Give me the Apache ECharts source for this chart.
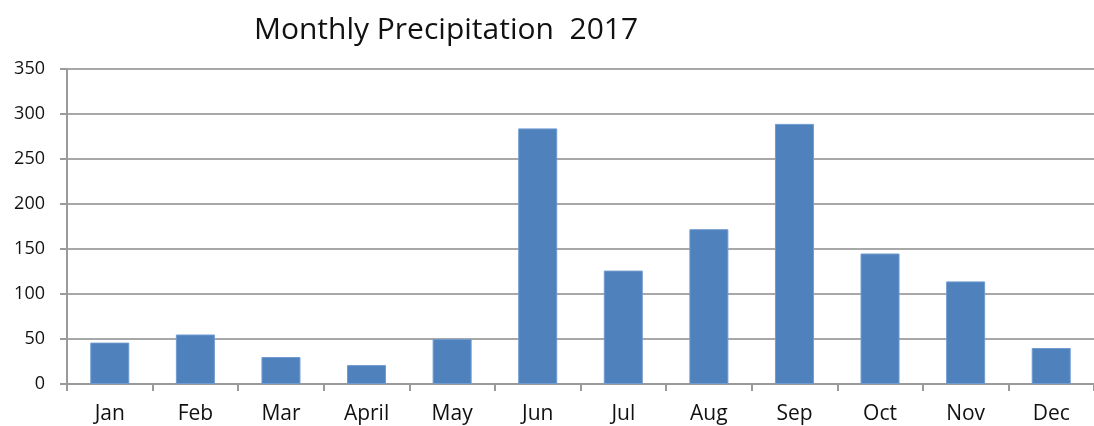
<!DOCTYPE html>
<html>
<head>
<meta charset="utf-8">
<script src="https://cdn.jsdelivr.net/npm/echarts@6/dist/echarts.min.js"></script>
<style>html,body{margin:0;padding:0;background:#fff;}#c{width:1094px;height:426px;}</style>
</head>
<body>
<div id="c"></div>
<script>
const titleText = 'Monthly Precipitation  2017';
const categories = ['Jan','Feb','Mar','April','May','Jun','Jul','Aug','Sep','Oct','Nov','Dec'];
const precipitation = [46, 55, 30, 21, 50, 284, 126, 172, 289, 145, 114, 40];
const yTicks = {min: 0, max: 350, interval: 50};

const chart = echarts.init(document.getElementById('c'), null, {renderer: 'canvas'});
chart.setOption({
  animation: false,
  backgroundColor: '#ffffff',
  title: {
    text: titleText,
    left: 441, top: 10, textAlign: 'center',
    textStyle: {fontFamily: 'Open Sans', fontSize: 30, fontWeight: 'normal', color: '#111111'}
  },
  grid: {left: 67, right: 0, top: 69, bottom: 42, containLabel: false},
  xAxis: {
    type: 'category',
    data: categories,
    boundaryGap: true,
    axisLine: {lineStyle: {color: '#9a9a9a', width: 2}},
    axisTick: {show: true, length: 7, lineStyle: {color: '#9a9a9a', width: 2}},
    axisLabel: {margin: 20, fontFamily: 'Open Sans', fontSize: 21, color: '#111111'}
  },
  yAxis: {
    type: 'value',
    min: yTicks.min, max: yTicks.max, interval: yTicks.interval,
    axisLine: {show: true, lineStyle: {color: '#9a9a9a', width: 2}},
    axisTick: {show: true, length: 7, lineStyle: {color: '#9a9a9a', width: 2}},
    splitLine: {show: true, lineStyle: {color: '#a8a8a8', width: 2}},
    axisLabel: {margin: 22, fontFamily: 'Open Sans', fontSize: 18, color: '#111111'}
  },
  series: [{
    type: 'bar',
    data: precipitation,
    barWidth: 39,
    itemStyle: {color: '#4F81BD', borderColor: '#6f9bd0', borderWidth: 1}
  }]
});
</script>
</body>
</html>
